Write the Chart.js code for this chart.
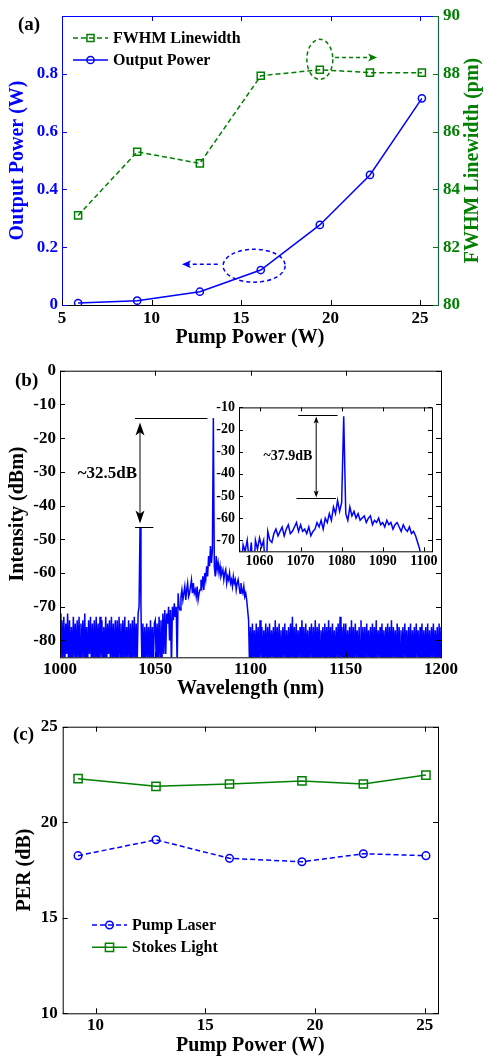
<!DOCTYPE html>
<html>
<head>
<meta charset="utf-8">
<script src="https://cdn.jsdelivr.net/npm/chart.js@4.4.1/dist/chart.umd.min.js"></script>
<style>
  html, body { margin: 0; padding: 0; background: #fff; }
  #wrap { position: relative; width: 484px; height: 1058px; overflow: hidden; }
  canvas { position: absolute; }
</style>
</head>
<body>
<div id="wrap">
  <canvas id="chartA" width="484" height="350" style="left:0;top:0"></canvas>
  <canvas id="chartB" width="484" height="360" style="left:0;top:345px"></canvas>
  <canvas id="chartInset" width="250" height="180" style="left:190px;top:395px"></canvas>
  <canvas id="chartC" width="484" height="363" style="left:0;top:695px"></canvas>
</div>
<script>
// ---------- (a) output power / linewidth vs pump ----------
const pumpA = [5.9, 9.2, 12.7, 16.1, 19.4, 22.2, 25.1];
const outPower = [0.007, 0.015, 0.046, 0.121, 0.277, 0.45, 0.715];
const fwhm = [83.1, 85.3, 84.9, 87.93, 88.14, 88.04, 88.04];
const aXTicks = [5, 10, 15, 20, 25];
const aYTicks = [0, 0.2, 0.4, 0.6, 0.8];
const aY2Ticks = [80, 82, 84, 86, 88, 90];

// ---------- (b) spectrum, OSA grid 1000..1200 nm every 0.5 nm ----------
const specStart = 1000;
const specStep = 0.5;
const specDbm = [
  -72,-88,-74,-86,-73,-88,-75,-84,-72,-88,-74,-87,-76,-88,-73,-85,-75,-88,-74,-86, // 1000
  -73,-88,-75,-85,-74,-88,-72,-87,-76,-88,-74,-84,-73,-88,-75,-86,-74,-88,-73,-87, // 1010
  -75,-88,-73,-85,-74,-88,-76,-87,-73,-88,-75,-84,-74,-88,-73,-86,-75,-88,-74,-87, // 1020
  -74,-88,-73,-85,-75,-88,-74,-86,-73,-88,-76,-85,-74,-88,-75,-87,-74,-88,-73,-86, // 1030
  -75,-88,-72,-70,-46.5,-70,-88,-75,-86,-76,-88,-75,-85,-76,-88,-74,-86,-76,-88,-75, // 1040
  -74,-86,-75,-88,-73,-85,-74,-88,-72,-84,-71,-84,-72,-75,-70,-80,-71,-88,-70,-74, // 1050
  -69,-73,-70,-88,-66,-70,-71,-67,-65,-68,-66,-64,-68,-65,-63,-67,-66,-64,-62,-66, // 1060
  -63,-66,-65,-67,-64,-68,-66,-65,-62,-64,-61,-65,-60,-62,-58,-61,-55,-58,-52,-57, // 1070
  -53,-14,-58,-61,-55,-59,-57,-60,-58,-61,-60,-59,-62,-60,-59,-63,-61,-62,-60,-63, // 1080
  -62,-64,-61,-63,-62,-65,-63,-62,-64,-66,-63,-65,-66,-64,-67,-66,-68,-71,-74,-88, // 1090
  -76,-88,-75,-86,-77,-88,-75,-87,-76,-88,-74,-85,-76,-88,-77,-86,-75,-88,-76,-87, // 1100
  -75,-88,-77,-85,-76,-88,-74,-87,-76,-88,-75,-86,-77,-88,-76,-85,-75,-88,-77,-87, // 1110
  -76,-88,-75,-86,-73,-88,-76,-87,-75,-88,-77,-85,-76,-88,-74,-86,-76,-88,-75,-87, // 1120
  -77,-88,-76,-85,-75,-88,-76,-87,-74,-88,-76,-86,-75,-88,-77,-85,-76,-88,-75,-87, // 1130
  -76,-88,-74,-86,-76,-88,-75,-87,-77,-88,-76,-85,-75,-88,-73,-86,-76,-88,-75,-87, // 1140
  -75,-88,-77,-86,-76,-88,-74,-87,-76,-88,-75,-85,-77,-88,-76,-86,-74,-88,-76,-87, // 1150
  -76,-88,-75,-85,-77,-88,-76,-87,-75,-88,-76,-86,-74,-88,-77,-85,-76,-88,-75,-87, // 1160
  -77,-88,-76,-86,-75,-88,-76,-87,-74,-88,-76,-85,-77,-88,-75,-86,-76,-88,-77,-87, // 1170
  -76,-88,-75,-85,-77,-88,-76,-87,-75,-88,-77,-86,-76,-88,-75,-85,-77,-88,-76,-87, // 1180
  -75,-88,-77,-86,-76,-88,-75,-87,-77,-88,-76,-85,-75,-88,-77,-86,-76,-88,-75,-87, // 1190
  -76
];
const bXTicks = [1000, 1050, 1100, 1150, 1200];
const bYTicks = [-80, -70, -60, -50, -40, -30, -20, -10, 0];
const insetXTicks = [1060, 1070, 1080, 1090, 1100];
const insetYTicks = [-70, -60, -50, -40, -30, -20, -10];

// ---------- (c) PER vs pump ----------
const pumpC = [9.2, 12.75, 16.1, 19.4, 22.2, 25.05];
const perPump = [18.25, 19.08, 18.11, 17.93, 18.35, 18.25];
const perStokes = [22.28, 21.88, 22.0, 22.16, 22.0, 22.47];
const cXTicks = [10, 15, 20, 25];
const cYTicks = [10, 15, 20, 25];

const BLUE = '#0000ff';
const GREEN = '#008000';
const SERIF = '"Liberation Serif", "Times New Roman", serif';

Chart.defaults.font.family = SERIF;
Chart.defaults.font.weight = 'bold';
Chart.defaults.color = '#000';
Chart.defaults.animation = false;

const specPoints = specDbm.map((v, i) => ({ x: specStart + i * specStep, y: v }));

function fixedTicks(arr) {
  return s => { s.ticks = arr.map(v => ({ value: v })); };
}

function linAxis(min, max, ticks, extra) {
  return Object.assign({
    type: 'linear', min, max,
    afterBuildTicks: fixedTicks(ticks),
    grid: { display: false, drawTicks: false },
    border: { display: false },
    ticks: { autoSkip: false, maxRotation: 0, callback: v => String(v) }
  }, extra);
}

// inward tick marks on one edge of the plot box
function inTicks(ctx, area, scale, side, len, color) {
  ctx.save();
  ctx.strokeStyle = color;
  ctx.lineWidth = 1;
  ctx.beginPath();
  scale.ticks.forEach(t => {
    const p = Math.round(scale.getPixelForValue(t.value)) + 0.5;
    if (side === 'bottom') { ctx.moveTo(p, area.bottom); ctx.lineTo(p, area.bottom - len); }
    if (side === 'top') { ctx.moveTo(p, area.top); ctx.lineTo(p, area.top + len); }
    if (side === 'left') { ctx.moveTo(area.left, p); ctx.lineTo(area.left + len, p); }
    if (side === 'right') { ctx.moveTo(area.right, p); ctx.lineTo(area.right - len, p); }
  });
  ctx.stroke();
  ctx.restore();
}

function spine(ctx, x1, y1, x2, y2, color, w) {
  ctx.save();
  ctx.strokeStyle = color;
  ctx.lineWidth = w;
  ctx.beginPath();
  ctx.moveTo(x1, y1);
  ctx.lineTo(x2, y2);
  ctx.stroke();
  ctx.restore();
}

function arrowHead(ctx, tx, ty, dx, dy, len, half) {
  const bx = tx - dx * len, by = ty - dy * len;
  const nx = tx - dx * len * 0.75, ny = ty - dy * len * 0.75;
  ctx.beginPath();
  ctx.moveTo(tx, ty);
  ctx.lineTo(bx - dy * half, by + dx * half);
  ctx.lineTo(nx, ny);
  ctx.lineTo(bx + dy * half, by - dx * half);
  ctx.closePath();
  ctx.fill();
}

function marker(ctx, style, x, y, r, color, w) {
  ctx.save();
  ctx.strokeStyle = color;
  ctx.lineWidth = w;
  ctx.beginPath();
  if (style === 'rect') {
    const s = r * Math.SQRT1_2;
    ctx.rect(x - s, y - s, 2 * s, 2 * s);
  } else {
    ctx.arc(x, y, r, 0, Math.PI * 2);
  }
  ctx.stroke();
  ctx.restore();
}

// legend drawn inside the plot, from the dataset styles
function drawLegend(chart, x0, y0, dy, size) {
  const ctx = chart.ctx;
  chart.data.datasets.forEach((ds, i) => {
    const y = y0 + i * dy;
    ctx.save();
    ctx.strokeStyle = ds.borderColor;
    ctx.lineWidth = ds.borderWidth;
    ctx.setLineDash(ds.borderDash || []);
    ctx.beginPath();
    ctx.moveTo(x0, y);
    ctx.lineTo(x0 + 35, y);
    ctx.stroke();
    ctx.restore();
    marker(ctx, ds.pointStyle, x0 + 17.5, y, ds.pointRadius, ds.borderColor, ds.pointBorderWidth);
    ctx.save();
    ctx.fillStyle = '#000';
    ctx.font = 'bold ' + size + 'px ' + SERIF;
    ctx.textBaseline = 'middle';
    ctx.fillText(ds.label, x0 + 40, y + 1);
    ctx.restore();
  });
}

function panelLabel(ctx, text, x, y) {
  ctx.save();
  ctx.fillStyle = '#000';
  ctx.font = 'bold 19px ' + SERIF;
  ctx.textBaseline = 'middle';
  ctx.fillText(text, x, y);
  ctx.restore();
}

// ================= (a) =================
const panelA = {
  id: 'panelA',
  afterDraw(chart) {
    const { ctx, chartArea: a, scales } = chart;
    const { x, y, y1 } = scales;
    spine(ctx, a.left + 0.5, a.top, a.left + 0.5, a.bottom, BLUE, 1);
    spine(ctx, a.left, a.top + 0.5, a.right, a.top + 0.5, BLUE, 1);
    spine(ctx, a.left, a.bottom + 0.5, a.right, a.bottom + 0.5, '#000', 1);
    spine(ctx, a.right + 0.5, a.top, a.right + 0.5, a.bottom + 1, '#1f5f4f', 1.2);
    inTicks(ctx, a, x, 'bottom', 5, '#000');
    inTicks(ctx, a, x, 'top', 5, BLUE);
    inTicks(ctx, a, y, 'left', 5, BLUE);
    inTicks(ctx, a, y, 'right', 5, BLUE);
    inTicks(ctx, a, y1, 'right', 5, GREEN);

    // dashed ellipses and arrows pointing to each axis
    ctx.save();
    ctx.lineWidth = 1.5;
    ctx.setLineDash([4, 3]);
    ctx.strokeStyle = GREEN;
    ctx.beginPath();
    ctx.ellipse(x.getPixelForValue(19.4), y1.getPixelForValue(88.5), 13, 20, 0, 0, Math.PI * 2);
    ctx.stroke();
    const gy = y1.getPixelForValue(88.56);
    const gx1 = x.getPixelForValue(20.25), gx2 = x.getPixelForValue(22.6);
    ctx.beginPath(); ctx.moveTo(gx1, gy); ctx.lineTo(gx2 - 6, gy); ctx.stroke();
    ctx.strokeStyle = BLUE;
    ctx.beginPath();
    ctx.ellipse(x.getPixelForValue(15.73), y.getPixelForValue(0.136), 31, 16.5, 0, 0, Math.PI * 2);
    ctx.stroke();
    const by = y.getPixelForValue(0.141);
    const bx1 = x.getPixelForValue(13.7), bx2 = x.getPixelForValue(11.7);
    ctx.beginPath(); ctx.moveTo(bx1, by); ctx.lineTo(bx2 + 6, by); ctx.stroke();
    ctx.setLineDash([]);
    ctx.fillStyle = GREEN;
    arrowHead(ctx, gx2, gy, 1, 0, 9, 4);
    ctx.fillStyle = BLUE;
    arrowHead(ctx, bx2, by, -1, 0, 9, 4);
    ctx.restore();

    // right axis title reads bottom to top
    ctx.save();
    ctx.fillStyle = GREEN;
    ctx.font = 'bold 20px ' + SERIF;
    ctx.textAlign = 'center';
    ctx.textBaseline = 'middle';
    ctx.translate(473, (a.top + a.bottom) / 2);
    ctx.rotate(-Math.PI / 2);
    ctx.fillText('FWHM Linewidth (pm)', 0, 0);
    ctx.restore();

    drawLegend(chart, 73, 38, 22, 16);
    panelLabel(ctx, '(a)', 18, 25);
  }
};

new Chart(document.getElementById('chartA'), {
  type: 'line',
  data: {
    datasets: [
      {
        label: 'FWHM Linewidth', yAxisID: 'y1',
        data: pumpA.map((p, i) => ({ x: p, y: fwhm[i] })),
        borderColor: GREEN, borderWidth: 1.5, borderDash: [5, 3],
        pointStyle: 'rect', pointRadius: 5, pointBorderWidth: 1.5,
        pointBorderColor: GREEN, pointBackgroundColor: 'rgba(0,0,0,0)'
      },
      {
        label: 'Output Power', yAxisID: 'y',
        data: pumpA.map((p, i) => ({ x: p, y: outPower[i] })),
        borderColor: BLUE, borderWidth: 1.5,
        pointStyle: 'circle', pointRadius: 3.6, pointBorderWidth: 1.5,
        pointBorderColor: BLUE, pointBackgroundColor: 'rgba(0,0,0,0)'
      }
    ]
  },
  options: {
    responsive: false,
    layout: { padding: { top: 16, right: 0, bottom: 0, left: 0 } },
    plugins: { legend: { display: false }, tooltip: { enabled: false } },
    scales: {
      x: linAxis(5, 26, aXTicks, {
        afterFit: s => { s.height = 45; },
        ticks: { autoSkip: false, maxRotation: 0, padding: 3, font: { size: 17 }, callback: v => String(v) },
        title: { display: true, text: 'Pump Power (W)', font: { size: 20, lineHeight: 1 }, padding: { top: 0, bottom: 2.5 } }
      }),
      y: linAxis(0, 1, aYTicks, {
        position: 'left',
        afterFit: s => { s.width = 62; },
        ticks: { autoSkip: false, padding: 4, color: BLUE, font: { size: 17 }, callback: v => String(v) },
        title: { display: true, text: 'Output Power (W)', color: BLUE, font: { size: 20, lineHeight: 1 }, padding: { top: 8, bottom: 0 } }
      }),
      y1: linAxis(80, 90, aY2Ticks, {
        position: 'right',
        afterFit: s => { s.width = 46; },
        ticks: { autoSkip: false, padding: 5, color: GREEN, font: { size: 17 }, callback: v => String(v) }
      })
    }
  },
  plugins: [panelA]
});

// ================= (b) =================
const panelB = {
  id: 'panelB',
  afterDraw(chart) {
    const { ctx, chartArea: a, scales: { x, y } } = chart;
    ctx.save();
    ctx.strokeStyle = '#000';
    ctx.lineWidth = 1;
    ctx.strokeRect(a.left + 0.5, a.top + 0.5, a.right - a.left, a.bottom - a.top);
    ctx.restore();
    inTicks(ctx, a, x, 'bottom', 5, '#000');
    inTicks(ctx, a, x, 'top', 5, '#000');
    inTicks(ctx, a, y, 'left', 5, '#000');
    inTicks(ctx, a, y, 'right', 5, '#000');

    // ~32.5 dB between laser line and residual pump
    const X = v => x.getPixelForValue(v), Y = v => y.getPixelForValue(v);
    const yTop = Math.round(Y(-14)) + 0.5, yBot = Math.round(Y(-46.5)) + 0.5;
    spine(ctx, X(1039.4), yTop, X(1077.4), yTop, '#000', 1);
    spine(ctx, X(1039.4), yBot, X(1049), yBot, '#000', 1);
    const ax = X(1042);
    spine(ctx, ax, yTop + 12, ax, yBot - 12, '#808080', 2);
    ctx.save();
    ctx.fillStyle = '#000';
    arrowHead(ctx, ax, yTop + 4, 0, -1, 13, 4.5);
    arrowHead(ctx, ax, yBot - 4, 0, 1, 13, 4.5);
    ctx.font = 'bold 17px ' + SERIF;
    ctx.textAlign = 'center';
    ctx.textBaseline = 'middle';
    ctx.fillText('~32.5dB', X(1024.9), Y(-30.6));
    ctx.restore();
    panelLabel(ctx, '(b)', 15, 36);
  }
};

new Chart(document.getElementById('chartB'), {
  type: 'line',
  data: {
    datasets: [{
      label: 'Spectrum',
      data: specPoints,
      borderColor: BLUE, borderWidth: 1.5, pointRadius: 0, tension: 0
    }]
  },
  options: {
    responsive: false,
    layout: { padding: { top: 25.7, right: 43, bottom: 0, left: 0 } },
    plugins: { legend: { display: false }, tooltip: { enabled: false } },
    scales: {
      x: linAxis(1000, 1200, bXTicks, {
        afterFit: s => { s.height = 47.7; },
        ticks: { autoSkip: false, maxRotation: 0, padding: 2, font: { size: 17 }, callback: v => String(v) },
        title: { display: true, text: 'Wavelength (nm)', font: { size: 20, lineHeight: 1 }, padding: { top: 0, bottom: 6 } }
      }),
      y: linAxis(-85, 0, bYTicks, {
        afterFit: s => { s.width = 60; },
        ticks: { autoSkip: false, padding: 4, font: { size: 17 }, callback: v => String(v) },
        title: { display: true, text: 'Intensity (dBm)', font: { size: 20, lineHeight: 1 }, padding: { top: 8, bottom: 0 } }
      })
    }
  },
  plugins: [panelB]
});

// ---------- inset ----------
const insetPlugin = {
  id: 'insetPlugin',
  beforeDatasetsDraw(chart) {
    const { ctx, chartArea: a } = chart;
    ctx.save();
    ctx.fillStyle = '#fff';
    ctx.fillRect(a.left, a.top, a.right - a.left, a.bottom - a.top);
    ctx.restore();
  },
  afterDraw(chart) {
    const { ctx, chartArea: a, scales: { x, y } } = chart;
    ctx.save();
    ctx.strokeStyle = '#000';
    ctx.lineWidth = 1;
    ctx.strokeRect(a.left + 0.5, a.top + 0.5, a.right - a.left, a.bottom - a.top);
    ctx.restore();
    inTicks(ctx, a, x, 'bottom', 4, '#000');
    inTicks(ctx, a, x, 'top', 4, '#000');
    inTicks(ctx, a, y, 'left', 4, '#000');
    inTicks(ctx, a, y, 'right', 4, '#000');

    // ~37.9 dB between laser line and ASE pedestal
    const X = v => x.getPixelForValue(v), Y = v => y.getPixelForValue(v);
    const yTop = Math.round(Y(-13.4)) + 0.5, yBot = Math.round(Y(-51.1)) + 0.5;
    spine(ctx, X(1069.4), yTop, X(1079), yTop, '#000', 1);
    spine(ctx, X(1069), yBot, X(1078.6), yBot, '#000', 1);
    const ax = X(1073.8);
    spine(ctx, ax, yTop + 4, ax, yBot - 4, '#000', 1);
    ctx.save();
    ctx.fillStyle = '#000';
    arrowHead(ctx, ax, yTop + 1, 0, -1, 7, 2.5);
    arrowHead(ctx, ax, yBot - 1, 0, 1, 7, 2.5);
    ctx.font = 'bold 14px ' + SERIF;
    ctx.textAlign = 'center';
    ctx.textBaseline = 'middle';
    ctx.fillText('~37.9dB', X(1066.9), Y(-32.2));
    ctx.restore();
  }
};

new Chart(document.getElementById('chartInset'), {
  type: 'line',
  data: {
    datasets: [{
      label: 'Spectrum (zoom)',
      data: specPoints,
      borderColor: BLUE, borderWidth: 1.5, pointRadius: 0, tension: 0
    }]
  },
  options: {
    responsive: false,
    layout: { padding: { top: 8.3, right: 8, bottom: 0, left: 0 } },
    plugins: { legend: { display: false }, tooltip: { enabled: false } },
    scales: {
      x: linAxis(1055, 1102, insetXTicks, {
        afterFit: s => { s.height = 23.7; },
        ticks: { autoSkip: false, maxRotation: 0, padding: 2, font: { size: 14 }, callback: v => String(v) }
      }),
      y: linAxis(-75, -10, insetYTicks, {
        afterFit: s => { s.width = 49; },
        ticks: { autoSkip: false, padding: 4, font: { size: 14 }, callback: v => String(v) }
      })
    }
  },
  plugins: [insetPlugin]
});

// ================= (c) =================
const panelC = {
  id: 'panelC',
  afterDraw(chart) {
    const { ctx, chartArea: a, scales: { x, y } } = chart;
    ctx.save();
    ctx.strokeStyle = '#000';
    ctx.lineWidth = 1;
    ctx.strokeRect(a.left + 0.5, a.top + 0.5, a.right - a.left, a.bottom - a.top);
    ctx.restore();
    inTicks(ctx, a, x, 'bottom', 5, '#000');
    inTicks(ctx, a, x, 'top', 5, '#000');
    inTicks(ctx, a, y, 'left', 5, '#000');
    inTicks(ctx, a, y, 'right', 5, '#000');
    drawLegend(chart, 92, 230, 22.3, 16);
    panelLabel(ctx, '(c)', 13, 40);
  }
};

new Chart(document.getElementById('chartC'), {
  type: 'line',
  data: {
    datasets: [
      {
        label: 'Pump Laser',
        data: pumpC.map((p, i) => ({ x: p, y: perPump[i] })),
        borderColor: BLUE, borderWidth: 1.5, borderDash: [5, 3],
        pointStyle: 'circle', pointRadius: 3.8, pointBorderWidth: 1.5,
        pointBorderColor: BLUE, pointBackgroundColor: 'rgba(0,0,0,0)'
      },
      {
        label: 'Stokes Light',
        data: pumpC.map((p, i) => ({ x: p, y: perStokes[i] })),
        borderColor: GREEN, borderWidth: 1.5,
        pointStyle: 'rect', pointRadius: 5.8, pointBorderWidth: 1.5,
        pointBorderColor: GREEN, pointBackgroundColor: 'rgba(0,0,0,0)'
      }
    ]
  },
  options: {
    responsive: false,
    layout: { padding: { top: 31.7, right: 46, bottom: 0, left: 0 } },
    plugins: { legend: { display: false }, tooltip: { enabled: false } },
    scales: {
      x: linAxis(8.5, 25.6, cXTicks, {
        afterFit: s => { s.height = 44.7; },
        ticks: { autoSkip: false, maxRotation: 0, padding: 2, font: { size: 17 }, callback: v => String(v) },
        title: { display: true, text: 'Pump Power (W)', font: { size: 20, lineHeight: 1 }, padding: { top: 0, bottom: 2.5 } }
      }),
      y: linAxis(10, 25, cYTicks, {
        afterFit: s => { s.width = 62.7; },
        ticks: { autoSkip: false, padding: 5, font: { size: 17 }, callback: v => String(v) },
        title: { display: true, text: 'PER (dB)', font: { size: 20, lineHeight: 1 }, padding: { top: 15, bottom: 0 } }
      })
    }
  },
  plugins: [panelC]
});
</script>
</body>
</html>
